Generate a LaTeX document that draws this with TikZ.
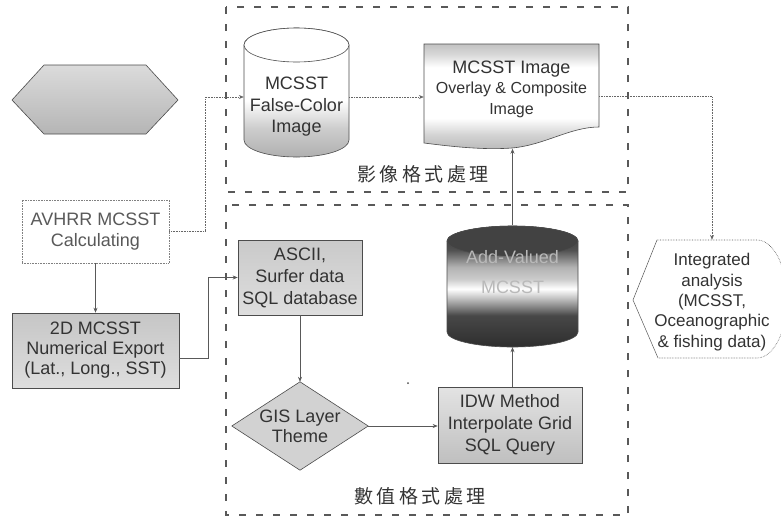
\documentclass[tikz,border=0pt]{standalone}
\usepackage{fontspec}
\setmainfont{Liberation Sans}
\newfontfamily\cjk{Noto Sans CJK TC}
\usetikzlibrary{arrows.meta,backgrounds,calc}

% vertical shadings (listed bottom to top, picture area is 25bp..75bp)
\pgfdeclareverticalshading{docband}{100bp}{color(0bp)=(gray!55); color(25bp)=(gray!55); color(32bp)=(gray!35); color(40bp)=(white); color(64bp)=(white); color(70bp)=(gray!30); color(75bp)=(gray!48); color(100bp)=(gray!48)}
\pgfdeclareverticalshading{lowgray}{100bp}{color(0bp)=(gray!62); color(25bp)=(gray!62); color(36bp)=(gray!40); color(47bp)=(white); color(75bp)=(white); color(100bp)=(white)}
\pgfdeclareverticalshading{darkband}{100bp}{color(0bp)=(black!82); color(25bp)=(black!82); color(38bp)=(black!72); color(45bp)=(gray!50); color(49bp)=(white); color(53bp)=(gray!40); color(58bp)=(gray!60); color(65bp)=(black!68); color(75bp)=(black!82); color(100bp)=(black!82)}

\tikzset{
  txt/.style={text=black!80, font=\fontsize{18}{21.5}\selectfont, align=center, inner sep=0pt},
  procbox/.style={txt, draw=gray!60!black, line width=0.6pt},
  flow/.style={draw=black!65, line width=0.6pt, -{Stealth[length=5pt,width=4pt]}},
  dotflow/.style={flow, draw=gray!80!black, densely dotted},
  region/.style={draw=black!65, line width=1.1pt, dash pattern=on 7pt off 10pt},
  outline/.style={draw=gray!60!black, line width=0.6pt},
  cjklabel/.style={text=black!80, font=\cjk\fontsize{19}{22}\selectfont, inner sep=0pt},
}

\begin{document}
\begin{tikzpicture}[x=1pt,y=-1pt]
\useasboundingbox (0,0) rectangle (781,523);
\clip (0,0) rectangle (781,523);

% ---------- nodes ----------
\node[procbox, draw=gray, densely dotted, fill=white, text=black!65,
      minimum width=147pt, minimum height=63pt] (avhrr) at (95.5,231.5)
      {AVHRR MCSST\\Calculating};
\node[procbox, top color=gray!45, bottom color=gray!26,
      minimum width=167pt, minimum height=75pt,
      font=\fontsize{18}{20}\selectfont] (num) at (95.5,350.5)
      {2D MCSST\\Numerical Export\\(Lat., Long., SST)};
\node[procbox, top color=gray!42, bottom color=gray!26,
      minimum width=124pt, minimum height=75pt,
      font=\fontsize{18}{22}\selectfont] (ascii) at (300,277.5)
      {ASCII,\\Surfer data\\SQL database};
\node[txt, minimum width=136pt, minimum height=88pt,
      font=\fontsize{18}{20}\selectfont] (gis) at (300,426)
      {GIS Layer\\Theme};
\node[procbox, top color=gray!22, bottom color=gray!50,
      minimum width=144pt, minimum height=76pt,
      font=\fontsize{18}{22}\selectfont] (idw) at (510,425)
      {IDW Method\\Interpolate Grid\\SQL Query};

% frames of the drawn shapes
\node[inner sep=0pt, minimum width=105pt, minimum height=120pt] (cylA) at (296.5,97) {};
\node[txt] (cylAtext) at (296.5,107) {MCSST\\False-Color\\Image};
\node[inner sep=0pt, minimum width=175pt, minimum height=104pt] (doc) at (511.5,96.5) {};
\node[txt, font=\fontsize{16}{20.5}\selectfont] (doctext) at (511.5,89)
      {{\fontsize{18}{20.5}\selectfont MCSST Image}\\Overlay \& Composite\\Image};
\node[inner sep=0pt, minimum width=131pt, minimum height=122pt] (cylB) at (512.5,286) {};
\node[txt, text=gray!55] (cylBtext) at (512.5,272) {Add-Valued\\[8pt]MCSST};
\node[inner sep=0pt, minimum width=140pt, minimum height=118pt] (integ) at (712,299) {};
\node[txt, font=\fontsize{17}{20.3}\selectfont] (integtext) at (712,302)
      {Integrated\\analysis\\(MCSST,\\Oceanographic\\\& fishing data)};

\node[cjklabel] (lblimage) at (423,174)
      {影\hspace{3.5pt}像\hspace{3.5pt}格\hspace{3.5pt}式\hspace{3.5pt}處\hspace{3.5pt}理};
\node[cjklabel] (lblnum) at (420,496)
      {數\hspace{3.5pt}值\hspace{3.5pt}格\hspace{3.5pt}式\hspace{3.5pt}處\hspace{3.5pt}理};
\node[circle, fill=black!70, inner sep=0pt, minimum size=2pt] (speck) at (408,383) {};

% ---------- shapes behind the text ----------
\begin{scope}[on background layer]
  % processing regions
  \draw[region] (226,7) rectangle (628,192);
  \draw[region] (226,205) rectangle (628,515);

  % hexagon
  \draw[outline, top color=gray!28, bottom color=gray!58]
    (12,100) -- (44,65) -- (146,65) -- (178,100) -- (146,134) -- (44,134) -- cycle;

  % false-colour cylinder
  \draw[outline, shading=lowgray]
    (244,45) -- (244,140) arc (180:0:52.5 and 17) -- (349,45)
    arc (0:-180:52.5 and 17) -- cycle;
  \draw[outline, fill=white] (296.5,45) ellipse (52.5 and 17);

  % overlay document
  \draw[outline, shading=docband]
    (424,44) -- (599,44) -- (599,127)
    .. controls (570,127) and (545,145) .. (512,148)
    .. controls (485,150) and (455,147) .. (424,143) -- cycle;

  % add-valued cylinder
  \draw[outline, shading=darkband]
    (447,241) -- (447,332) arc (180:0:65.5 and 15) -- (578,241)
    arc (0:-180:65.5 and 15) -- cycle;
  \draw[outline, fill=black!74] (512.5,241) ellipse (65.5 and 15);

  % integrated analysis display
  \fill[white] (633,300) -- (657,240) -- (757,240) arc (-90:90:30 and 59) -- (658,358) -- cycle;
  \draw[gray!70!black, line width=0.5pt] (657,240) -- (633,300) -- (658,358);
  \draw[gray!70!black, line width=0.6pt, densely dotted]
    (657,240) -- (757,240) arc (-90:90:30 and 59) -- (658,358);

  % decision diamond
  \draw[outline, fill=gray!35] (gis.north) -- (gis.east) -- (gis.south) -- (gis.west) -- cycle;
\end{scope}

% ---------- connectors ----------
\draw[dotflow] (avhrr.east) -- ++(36,0) |- (cylA.west);
\draw[dotflow] (cylA.east) -- (cylA.east -| doc.west);
\draw[dotflow] (doc.east) -| (integ.north);
\draw[flow] (avhrr.south) -- (num.north);
\draw[flow] ([yshift=-7.5pt]num.east) -- ++(29,0) |- (ascii.west);
\draw[flow] (ascii.south) -- (gis.north);
\draw[flow] (gis.east) -- (gis.east -| idw.west);
\draw[flow] (idw.north -| cylB.south) -- (cylB.south);
\draw[flow] (cylB.north) -- (cylB.north |- doc.south);
\end{tikzpicture}
\end{document}
